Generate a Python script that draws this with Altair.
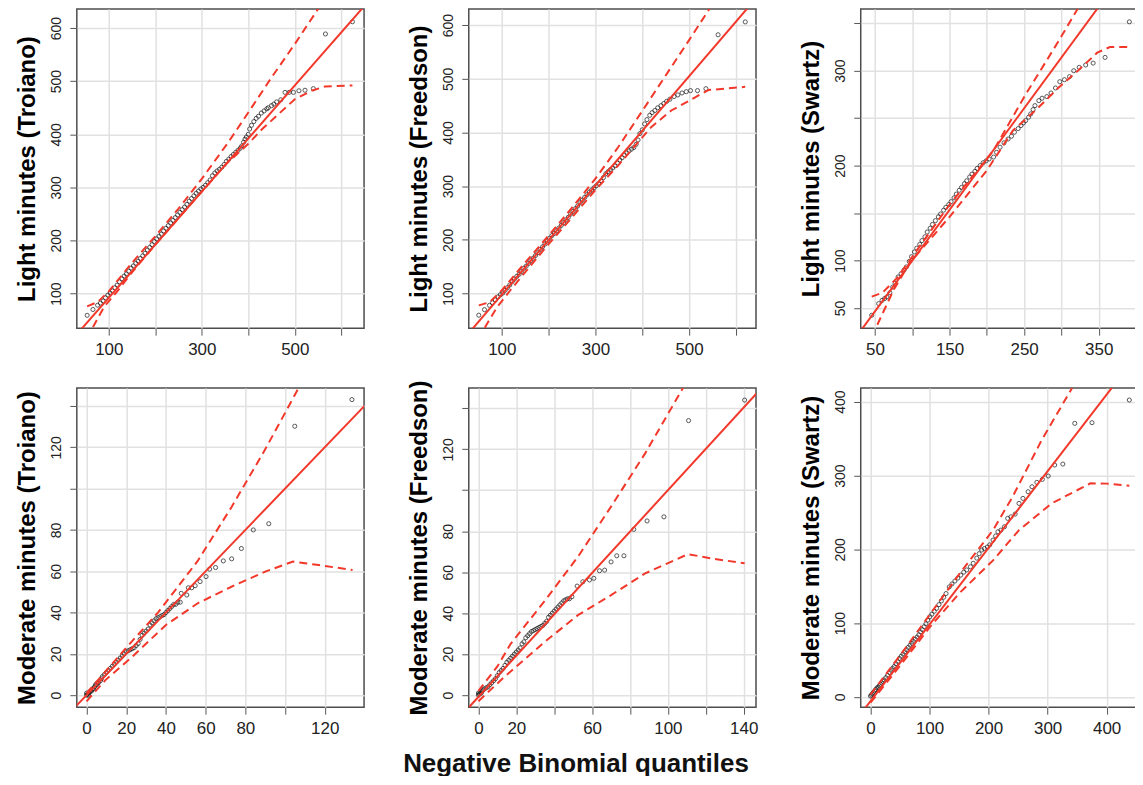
import altair as alt
import pandas as pd

RED = "#f2382a"
FONT = "Liberation Sans"

# ---------------- Panel 1: Light minutes (Troiano) ----------------
p1_x = [53.5, 66, 76, 82, 88, 93, 98, 103, 108, 113, 118, 123, 128, 133, 138, 143, 148, 153, 158, 163,
        168, 173, 178, 183, 188, 193, 198, 203, 208, 213, 218, 223, 228, 233, 238, 243, 248, 253, 258, 263,
        268, 273, 278, 283, 288, 293, 298, 303, 308, 313, 318, 323, 328, 333, 338, 343, 348, 353, 358, 363,
        368, 373, 378, 383, 386, 390, 393, 396, 400, 403, 407, 412, 417, 422, 428, 434, 440, 443, 450, 455,
        461, 470, 479, 488, 497, 509, 522, 540, 566, 624]
p1_y = [59, 70, 78, 82, 86, 92, 97, 101, 105, 111, 116, 122, 128, 133, 137, 142, 148, 152, 157, 161,
        166, 171, 176, 182, 187, 192, 198, 203, 208, 212, 218, 223, 228, 233, 238, 243, 248, 253, 258, 263,
        268, 274, 279, 284, 289, 293, 297, 300, 304, 309, 314, 322, 327, 331, 334, 338, 343, 349, 353, 358,
        362, 366, 370, 374, 378, 385, 391, 395, 400, 410, 417, 424, 430, 434, 440, 444, 448, 450, 454, 457,
        461, 465, 479, 479, 479, 482, 483, 486, 589, 612]
p1_ref_x = [20, 660]
p1_ref_y = [12, 652]
p1_up_x = [53.5, 76, 100, 150, 200, 250, 300, 357, 400, 450, 500, 547, 624]
p1_up_y = [76, 84, 104, 158, 208, 260, 316, 385, 441, 507, 570, 632, 735]
p1_lo_x = [53.5, 68, 90, 120, 150, 200, 250, 300, 350, 400, 430, 465, 500, 536, 565, 624]
p1_lo_y = [15, 40, 75, 106, 140, 192, 242, 292, 342, 382, 410, 438, 466, 482, 490, 492]

# ---------------- Panel 2: Light minutes (Freedson) ----------------
p2_x = [50.8, 63, 73.7, 80, 86, 92, 97, 102, 107, 112, 117, 122, 127, 132, 137, 142, 147, 152, 157, 162,
        167, 172, 177, 182, 187, 192, 197, 202, 207, 212, 217, 222, 227, 232, 237, 242, 247, 252, 257, 262,
        267, 272, 277, 282, 287, 292, 297, 302, 307, 312, 317, 322, 327, 332, 337, 342, 347, 352, 357, 362,
        367, 372, 377, 382, 387, 391, 395, 400, 405, 410, 416, 421, 427, 433, 440, 446, 452, 459, 468, 476,
        485, 494, 503, 518, 536, 562, 620]
p2_y = [59.7, 70, 78, 83, 88, 94, 98, 101, 106, 111, 116, 122, 127, 132, 136, 141, 147, 151, 156, 161,
        166, 171, 176, 182, 187, 192, 198, 203, 208, 212, 217, 222, 227, 232, 237, 242, 248, 253, 258, 263,
        269, 274, 279, 284, 289, 293, 297, 301, 305, 310, 316, 323, 327, 331, 334, 338, 343, 349, 353, 358,
        362, 366, 369, 372, 378, 386, 398, 405, 416, 424, 432, 437, 441, 446, 450, 454, 458, 462, 467, 470,
        473.6, 476, 478, 478, 481.6, 582, 606]
p2_ref_x = [20, 660]
p2_ref_y = [16.7, 667.3]
p2_up_x = [50.8, 74, 100, 150, 200, 250, 300, 348, 400, 434, 500, 541, 620]
p2_up_y = [78, 84, 106, 158, 208, 260, 314, 372, 440, 485, 572, 627, 735]
p2_lo_x = [50.8, 66, 90, 120, 150, 200, 250, 300, 348, 419, 462, 512, 541, 620]
p2_lo_y = [15, 40, 75, 108, 140, 192, 242, 293, 338, 410, 441, 465, 479, 485]

# ---------------- Panel 3: Light minutes (Swartz) ----------------
p3_x = [45.6, 55, 59.5, 63, 66, 70, 73.8, 77, 81, 85, 89, 92, 96, 99, 102.8, 106, 110, 113, 117, 120,
        124, 127, 131, 135, 138, 142, 145, 149, 152, 156, 159, 163, 166, 170, 173, 177, 180, 184, 187, 191,
        195, 199, 203, 209, 213, 217.7, 223, 228.5, 233, 237, 242, 245.8, 249, 252, 256, 258.8, 262, 264.5,
        269.7, 274, 280.5, 286, 292, 297.8, 304, 310.8, 316.5, 323.8, 332.5, 342.5, 358.5, 391]
p3_y = [42.3, 54.6, 58, 60, 61.6, 66, 72, 76, 82.7, 86, 90, 93.2, 99, 104, 109, 113, 117, 121, 125, 130,
        134, 138, 142, 146, 149, 153, 156, 159, 162, 166, 170, 174, 177, 181, 184, 188, 191, 194, 197, 200,
        203, 205, 207, 209, 214, 219.4, 224, 228, 231, 235.2, 239, 242.2, 245, 247.5, 251, 254.5, 259, 263.2,
        268.5, 271, 272.7, 276.5, 281.8, 288.4, 290.5, 293.7, 300, 303.5, 306, 308, 314, 351.5]
p3_ref_x = [20, 420]
p3_ref_y = [14.3, 442.3]
p3_up_x = [45.6, 60, 80, 100, 150, 209, 252, 296, 320, 391]
p3_up_y = [62, 66, 82, 104, 159, 216, 275, 331, 363, 450]
p3_lo_x = [45.6, 53, 75, 96, 150, 200, 235, 265, 296, 322, 348, 365, 391]
p3_lo_y = [20, 32, 69, 97, 146, 195, 237, 258, 282, 300, 319, 325, 325]

# ---------------- Panel 4: Moderate minutes (Troiano) ----------------
p4_x = [0, 0, 0.5, 1, 1, 1.5, 2, 2.5, 3, 3.5, 4, 4.5, 5, 5.5, 6, 7, 7.5, 8, 9, 10, 11, 12, 13, 14, 15,
        16, 17, 18, 19, 20, 21, 22, 23, 24, 25, 26, 27, 28, 29, 30, 31, 32, 33, 34, 35, 36, 37, 38, 39,
        40, 41, 42, 43, 44, 45, 46, 47.2, 47.7, 50.5, 51.3, 53, 54.7, 57.2, 60.2, 62, 65, 68.9, 73.1, 78,
        84, 91.8, 104.9, 133.7]
p4_y = [0, 1, 0.5, 0, 1, 1.5, 2, 2, 3, 3, 4, 5, 5, 6, 6, 7, 8, 9, 10, 11, 12, 13, 14, 15, 16,
        17, 18, 19, 20, 21, 21.5, 22, 22.5, 23, 24, 25, 27, 29, 30, 31, 32, 34, 35, 36, 37, 37.5, 38, 38.5, 39,
        40, 41, 42, 43, 44, 44, 45, 45, 49.3, 48.5, 52, 52, 53, 55, 57.4, 61, 61.8, 65, 66, 71,
        80, 83, 130.2, 143.1]
p4_ref_x = [-10, 150]
p4_ref_y = [-10, 150]
p4_up_x = [0, 10, 20, 36, 56, 73, 90, 107, 134]
p4_up_y = [1, 12, 23, 40, 65, 91, 119, 149, 195]
p4_lo_x = [0, 9.5, 23, 40, 56, 73, 90, 104, 117, 134]
p4_lo_y = [-3, 7.3, 18.6, 34, 44.5, 52.5, 59.8, 64.7, 63, 60.6]

# ---------------- Panel 5: Moderate minutes (Freedson) ----------------
p5_x = [0, 0, 0.5, 1, 1.5, 2, 2.5, 3, 4, 5, 6, 7, 8, 9, 10, 11, 12, 13, 14, 15, 16, 17, 18, 19, 20,
        21, 22, 23, 24, 25, 26, 27, 28, 29, 30, 31, 32, 33, 34, 35, 36, 37, 38, 39, 40, 41, 42, 43, 44,
        45, 46, 47, 48, 49.3, 52.1, 55.1, 58.6, 60.9, 63.9, 66.6, 70, 73, 76.8, 82, 89, 97.9, 110.9, 140.5]
p5_y = [0, 1, 0.5, 1, 1, 2, 2.5, 3, 3.5, 4, 5, 6, 7, 8, 9.5, 11, 12, 13, 14.5, 16, 17, 18, 19, 20, 21,
        22, 23, 25, 26, 28, 29, 30, 31, 31.5, 32, 32.5, 33, 33.5, 34, 35, 36, 38, 39, 40, 41, 42, 43, 44, 45,
        46, 46.5, 47, 47, 48, 53.2, 55.3, 56.2, 57, 60.7, 61, 65, 68, 68, 80.9, 85, 87, 134, 144]
p5_ref_x = [-10, 155]
p5_ref_y = [-11, 155.5]
p5_up_x = [0, 10, 17, 35, 52.5, 70, 88, 108, 141]
p5_up_y = [2, 14, 25, 46, 67.5, 92, 118, 150, 200]
p5_lo_x = [0, 13.7, 35, 52.5, 70, 88, 110.6, 123, 140.5]
p5_lo_y = [-3, 8.9, 26, 39, 48.8, 59.4, 68.8, 66.7, 64.3]

# ---------------- Panel 6: Moderate minutes (Swartz) ----------------
p6_x = [0, 1.6, 3, 5, 7, 9, 11, 13, 15, 17, 19, 21, 23, 26, 29, 32, 35, 37.4, 40, 43, 46, 49, 52, 55,
        58, 61, 64, 67, 70.4, 73, 76, 79, 82, 85, 88, 91, 94, 97, 100.5, 104, 108, 112, 116, 120, 124, 128,
        133.5, 138, 143, 148, 153, 158, 163, 169.3, 174, 180, 184, 188.4, 193, 198, 202, 207.6, 212, 215.9,
        221, 226.9, 232.4, 237.8, 245, 251.6, 258.2, 267, 273.6, 281.8, 291.2, 301, 312, 325.8, 346, 375.2,
        438.4]
p6_y = [1, 2.3, 4, 6, 8, 10, 12, 13, 15, 17, 19, 21, 23, 26, 29, 33, 36, 38.5, 41, 45, 48, 52, 55, 58,
        61, 64, 67, 70, 72.4, 75, 78, 81, 84, 88, 91, 95, 99, 104, 108.5, 112, 116, 120, 125, 130, 135, 140,
        149, 153, 157, 161, 165, 169, 172, 176.3, 181, 188, 194, 199, 201, 203, 206, 212.5, 218, 223.7,
        226, 230.5, 241.9, 244, 247.7, 262.2, 269, 278, 284.8, 290.7, 294.8, 299.3, 314.2, 315.5, 370.7, 371.6,
        402.3]
p6_ref_x = [-20, 480]
p6_ref_y = [-26.7, 492.8]
p6_up_x = [0, 50, 100, 150, 207.6, 240.6, 290, 339.5, 438.4]
p6_up_y = [3, 56, 111, 166, 226, 271, 348, 416, 560]
p6_lo_x = [0, 50, 100, 150, 207.6, 251.6, 306.5, 372.4, 400, 438.4]
p6_lo_y = [-8, 42, 94, 140, 185, 226, 262, 289.4, 289, 286]

panels = [
    dict(title="Light minutes (Troiano)", px=p1_x, py=p1_y, rx=p1_ref_x, ry=p1_ref_y,
         ux=p1_up_x, uy=p1_up_y, lx=p1_lo_x, ly=p1_lo_y,
         xdom=[31.3, 649], ydom=[34.8, 636], w=288,
         xt=[100, 200, 300, 400, 500, 600], xl=[100, 300, 500],
         yt=[100, 200, 300, 400, 500, 600], yl=[100, 200, 300, 400, 500, 600]),
    dict(title="Light minutes (Freedson)", px=p2_x, py=p2_y, rx=p2_ref_x, ry=p2_ref_y,
         ux=p2_up_x, uy=p2_up_y, lx=p2_lo_x, ly=p2_lo_y,
         xdom=[29.4, 643], ydom=[35.5, 630], w=288,
         xt=[100, 200, 300, 400, 500, 600], xl=[100, 300, 500],
         yt=[100, 200, 300, 400, 500, 600], yl=[100, 200, 300, 400, 500, 600]),
    dict(title="Light minutes (Swartz)", px=p3_x, py=p3_y, rx=p3_ref_x, ry=p3_ref_y,
         ux=p3_up_x, uy=p3_up_y, lx=p3_lo_x, ly=p3_lo_y,
         xdom=[30.9, 416], ydom=[28.7, 365], w=288,
         xt=[50, 100, 150, 200, 250, 300, 350, 400], xl=[50, 150, 250, 350],
         yt=[50, 100, 150, 200, 250, 300, 350], yl=[50, 100, 200, 300]),
    dict(title="Moderate minutes (Troiano)", px=p4_x, py=p4_y, rx=p4_ref_x, ry=p4_ref_y,
         ux=p4_up_x, uy=p4_up_y, lx=p4_lo_x, ly=p4_lo_y,
         xdom=[-4.9, 139.8], ydom=[-5.8, 148.7], w=288,
         xt=[0, 20, 40, 60, 80, 100, 120], xl=[0, 20, 40, 60, 80, 120],
         yt=[0, 20, 40, 60, 80, 100, 120, 140], yl=[0, 20, 40, 60, 80, 120]),
    dict(title="Moderate minutes (Freedson)", px=p5_x, py=p5_y, rx=p5_ref_x, ry=p5_ref_y,
         ux=p5_up_x, uy=p5_up_y, lx=p5_lo_x, ly=p5_lo_y,
         xdom=[-5.1, 146.5], ydom=[-5.9, 149.9], w=288,
         xt=[0, 20, 40, 60, 80, 100, 120, 140], xl=[0, 20, 60, 100, 140],
         yt=[0, 20, 40, 60, 80, 100, 120, 140], yl=[0, 20, 40, 60, 80, 120]),
    dict(title="Moderate minutes (Swartz)", px=p6_x, py=p6_y, rx=p6_ref_x, ry=p6_ref_y,
         ux=p6_up_x, uy=p6_up_y, lx=p6_lo_x, ly=p6_lo_y,
         xdom=[-16.5, 470], ydom=[-14, 418.6], w=288,
         xt=[0, 100, 200, 300, 400], xl=[0, 100, 200, 300, 400],
         yt=[0, 100, 200, 300, 400], yl=[0, 100, 200, 300, 400]),
]


def label_expr(vals):
    return "indexof([" + ",".join(str(v) for v in vals) + "], datum.value) >= 0 ? datum.label : ''"


def make_panel(p):
    xs = alt.Scale(domain=p["xdom"], nice=False, zero=False)
    ys = alt.Scale(domain=p["ydom"], nice=False, zero=False)
    xa = alt.Axis(values=p["xt"], labelExpr=label_expr(p["xl"]), title=None)
    ya = alt.Axis(values=p["yt"], labelExpr=label_expr(p["yl"]), title=p["title"])

    def enc(mk):
        return mk.encode(x=alt.X("x:Q", scale=xs, axis=xa), y=alt.Y("y:Q", scale=ys, axis=ya))

    pts = enc(alt.Chart(pd.DataFrame({"x": p["px"], "y": p["py"]})).mark_point(
        shape="circle", filled=False, size=17, strokeWidth=1, color="#111111", clip=True
    ))

    def line(xx, yy, dashed):
        df = pd.DataFrame({"x": xx, "y": yy})
        if dashed:
            mk = alt.Chart(df).mark_line(color=RED, strokeWidth=2, strokeDash=[8, 5], clip=True)
        else:
            mk = alt.Chart(df).mark_line(color=RED, strokeWidth=2, clip=True)
        return enc(mk)

    return alt.layer(
        pts,
        line(p["rx"], p["ry"], False),
        line(p["ux"], p["uy"], True),
        line(p["lx"], p["ly"], True),
    ).properties(width=p["w"], height=320)


charts = [make_panel(p) for p in panels]

chart = alt.concat(
    *charts, columns=3, spacing={"row": 60, "column": 105}, bounds="flush"
).properties(
    title=alt.TitleParams(
        "Negative Binomial quantiles", orient="bottom", anchor="middle",
        font=FONT, fontSize=26, fontWeight="bold", color="#111111", offset=14, dx=-6
    ),
    padding={"left": 7, "top": -1, "right": -14, "bottom": -2},
).configure_view(
    stroke="#4d4d4d", strokeWidth=1.5
).configure_axis(
    labelFont=FONT, labelFontSize=16, labelColor="#222222",
    titleFont=FONT, titleFontSize=24, titleFontWeight="bold", titleColor="#000000",
    gridColor="#e1e1e1", gridWidth=1.5, tickColor="#555555", tickSize=7, tickWidth=1,
    domain=False, labelPadding=6, labelOverlap=False, labelFlush=False
).configure_axisX(
    labelFontSize=17
).configure_axisY(
    labelFontSize=14, labelAngle=270, labelAlign="center", labelBaseline="bottom", titlePadding=10
)

chart.save("out.html", embed_options={"renderer": "svg", "actions": False})
